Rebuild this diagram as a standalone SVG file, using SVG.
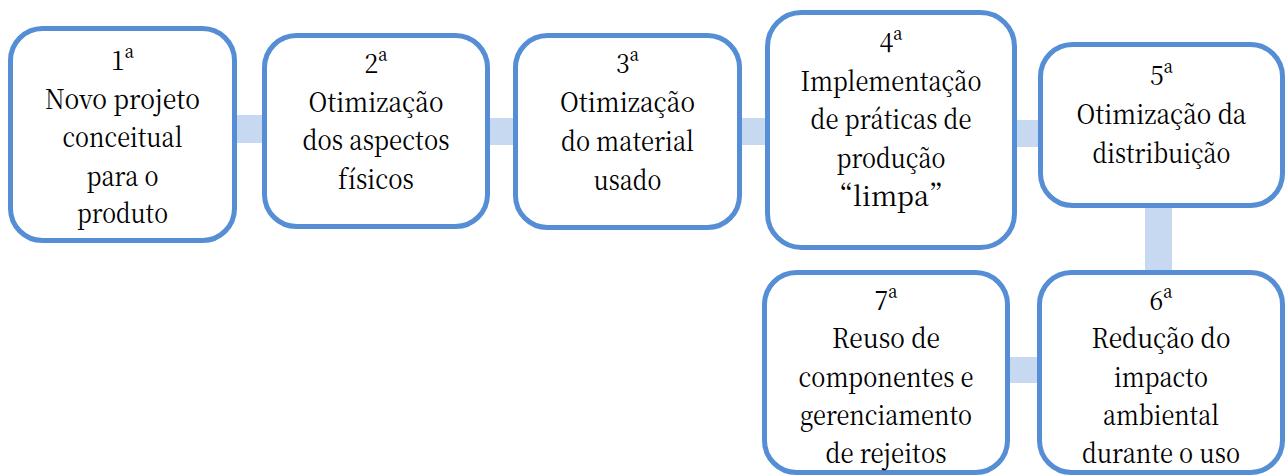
<svg xmlns="http://www.w3.org/2000/svg" width="1288" height="476" viewBox="0 0 1288 476">
<style>
.box{fill:#ffffff;stroke:#558ed5;stroke-width:5}
.conn{fill:#c6d9f1;stroke:none}
text{font-size:27px;fill:#000000;text-anchor:middle}
</style>
<rect width="1288" height="476" fill="#ffffff"/>
<g id="connectors">
<rect class="conn" x="230" y="115" width="40" height="28"/>
<rect class="conn" x="484" y="118" width="36" height="27"/>
<rect class="conn" x="736" y="118" width="36" height="27"/>
<rect class="conn" x="1010" y="120" width="35" height="27"/>
<rect class="conn" x="1145" y="200" width="27" height="78"/>
<rect class="conn" x="1004" y="357" width="40" height="26"/>
</g>
<g id="node1" font-family="Noto Serif CJK SC, Liberation Serif, serif">
<rect class="box" x="10.5" y="28.5" width="224" height="212" rx="32"/>
<text x="122.5" y="70" textLength="23" lengthAdjust="spacingAndGlyphs">1ª</text>
<text x="122.5" y="109" textLength="155" lengthAdjust="spacingAndGlyphs">Novo projeto</text>
<text x="122.5" y="147" textLength="120" lengthAdjust="spacingAndGlyphs">conceitual</text>
<text x="122.5" y="186" textLength="72" lengthAdjust="spacingAndGlyphs">para o</text>
<text x="122.5" y="223" textLength="91" lengthAdjust="spacingAndGlyphs">produto</text>
</g>
<g id="node2" font-family="Noto Serif CJK SC, Liberation Serif, serif">
<rect class="box" x="264.5" y="35.5" width="223" height="191" rx="32"/>
<text x="376" y="73" textLength="23" lengthAdjust="spacingAndGlyphs">2ª</text>
<text x="376" y="112" textLength="135" lengthAdjust="spacingAndGlyphs">Otimização</text>
<text x="376" y="150" textLength="147" lengthAdjust="spacingAndGlyphs">dos aspectos</text>
<text x="376" y="189" textLength="76" lengthAdjust="spacingAndGlyphs">físicos</text>
</g>
<g id="node3" font-family="Noto Serif CJK SC, Liberation Serif, serif">
<rect class="box" x="515.5" y="35.5" width="224" height="192" rx="32"/>
<text x="627.5" y="73" textLength="23" lengthAdjust="spacingAndGlyphs">3ª</text>
<text x="627.5" y="112" textLength="135" lengthAdjust="spacingAndGlyphs">Otimização</text>
<text x="627.5" y="151" textLength="133" lengthAdjust="spacingAndGlyphs">do material</text>
<text x="627.5" y="190" textLength="68" lengthAdjust="spacingAndGlyphs">usado</text>
</g>
<g id="node4" font-family="Noto Serif CJK SC, Liberation Serif, serif">
<rect class="box" x="767.5" y="12.5" width="247" height="235" rx="34"/>
<text x="891" y="52" textLength="23" lengthAdjust="spacingAndGlyphs">4ª</text>
<text x="891" y="91" textLength="181" lengthAdjust="spacingAndGlyphs">Implementação</text>
<text x="891" y="129" textLength="161" lengthAdjust="spacingAndGlyphs">de práticas de</text>
<text x="891" y="168" textLength="109" lengthAdjust="spacingAndGlyphs">produção</text>
<text x="891" y="206">“limpa”</text>
</g>
<g id="node5" font-family="Noto Serif CJK SC, Liberation Serif, serif">
<rect class="box" x="1040.5" y="44.5" width="242" height="161" rx="32"/>
<text x="1161.5" y="85" textLength="23" lengthAdjust="spacingAndGlyphs">5ª</text>
<text x="1161.5" y="124" textLength="170" lengthAdjust="spacingAndGlyphs">Otimização da</text>
<text x="1161.5" y="163" textLength="138" lengthAdjust="spacingAndGlyphs">distribuição</text>
</g>
<g id="node6" font-family="Noto Serif CJK SC, Liberation Serif, serif">
<rect class="box" x="1039.5" y="272.5" width="243" height="200" rx="32"/>
<text x="1161" y="310" textLength="23" lengthAdjust="spacingAndGlyphs">6ª</text>
<text x="1161" y="348" textLength="139" lengthAdjust="spacingAndGlyphs">Redução do</text>
<text x="1161" y="387" textLength="94" lengthAdjust="spacingAndGlyphs">impacto</text>
<text x="1161" y="425" textLength="116" lengthAdjust="spacingAndGlyphs">ambiental</text>
<text x="1161" y="463" textLength="158" lengthAdjust="spacingAndGlyphs">durante o uso</text>
</g>
<g id="node7" font-family="Noto Serif CJK SC, Liberation Serif, serif">
<rect class="box" x="764.5" y="272.5" width="243" height="200" rx="32"/>
<text x="886" y="310" textLength="23" lengthAdjust="spacingAndGlyphs">7ª</text>
<text x="886" y="348" textLength="108" lengthAdjust="spacingAndGlyphs">Reuso de</text>
<text x="886" y="387" textLength="175" lengthAdjust="spacingAndGlyphs">componentes e</text>
<text x="886" y="425" textLength="172" lengthAdjust="spacingAndGlyphs">gerenciamento</text>
<text x="886" y="463" textLength="121" lengthAdjust="spacingAndGlyphs">de rejeitos</text>
</g>
</svg>
